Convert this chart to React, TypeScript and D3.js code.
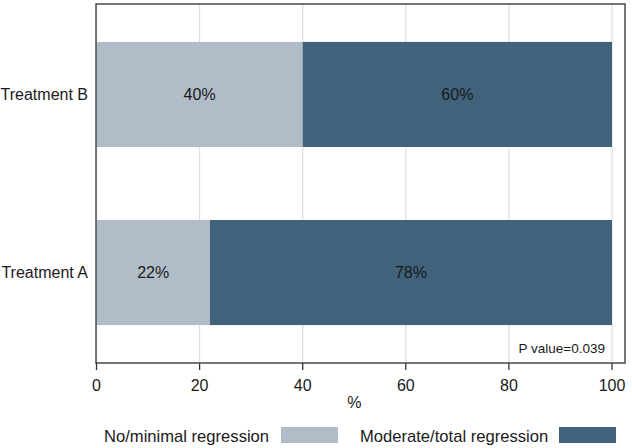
import * as d3 from "d3"

const categories = ["Treatment B", "Treatment A"]
const noMinimal = [40, 22]
const moderateTotal = [60, 78]
const xTicks = [0, 20, 40, 60, 80, 100]
const legendLabels = ["No/minimal regression", "Moderate/total regression"]
const colors = ["#b0bcc8", "#40627a"]

const font = "'Liberation Sans', Arial, Helvetica, sans-serif"

const App = () => {
  const W = 632
  const H = 448
  const frame = { left: 96, top: 4, right: 625, bottom: 363 }

  const x = d3.scaleLinear().domain([0, 100]).range([96.5, 612])
  const y = d3.scaleBand()
    .domain(categories)
    .range([frame.top, frame.bottom])
    .paddingInner(0.41)
    .paddingOuter(0.213)

  const rows = categories.map((c, i) => ({
    cat: c,
    segs: [
      { start: 0, value: noMinimal[i], color: colors[0] },
      { start: noMinimal[i], value: moderateTotal[i], color: colors[1] },
    ],
  }))

  return (
    <svg width={W} height={H} style={{ position: "absolute", left: 0, top: 0 }} fontFamily={font}>
      {/* gridlines */}
      {xTicks.map(t => (
        <line key={"g" + t} x1={x(t)} x2={x(t)} y1={frame.top} y2={frame.bottom} stroke="#dedede" strokeWidth={1.2} />
      ))}
      {/* bars */}
      {rows.map(r => (
        <g key={r.cat}>
          {r.segs.map((s, j) => (
            <g key={j}>
              <rect
                x={x(s.start)}
                y={y(r.cat)!}
                width={x(s.start + s.value) - x(s.start)}
                height={y.bandwidth()}
                fill={s.color}
              />
              <text
                x={(x(s.start) + x(s.start + s.value)) / 2}
                y={y(r.cat)! + y.bandwidth() / 2}
                dy="0.35em"
                textAnchor="middle"
                fontSize={16}
                fill="#1a1a1a"
              >
                {s.value}%
              </text>
            </g>
          ))}
          <text
            x={88}
            y={y(r.cat)! + y.bandwidth() / 2}
            dy="0.35em"
            textAnchor="end"
            fontSize={16}
            fill="#1a1a1a"
          >
            {r.cat}
          </text>
        </g>
      ))}
      {/* frame */}
      <rect
        x={frame.left}
        y={frame.top}
        width={frame.right - frame.left}
        height={frame.bottom - frame.top}
        fill="none"
        stroke="#4a4a4a"
        strokeWidth={1.5}
      />
      {/* x axis ticks */}
      {xTicks.map(t => (
        <g key={"t" + t} transform={`translate(${x(t)}, ${frame.bottom})`}>
          <line y2={7} stroke="#333" strokeWidth={1.3} />
          <text y={22} dy="0.35em" textAnchor="middle" fontSize={16} fill="#1a1a1a">
            {t}
          </text>
        </g>
      ))}
      <text x={(x(0) + x(100)) / 2} y={402} dy="0.35em" textAnchor="middle" fontSize={16} fill="#1a1a1a">
        %
      </text>
      <text x={605} y={348} dy="0.35em" textAnchor="end" fontSize={13.5} fill="#1a1a1a">
        P value=0.039
      </text>
      {/* legend */}
      <text x={104} y={436} dy="0.35em" fontSize={16.6} fill="#1a1a1a">{legendLabels[0]}</text>
      <rect x={281} y={427} width={57} height={16} fill={colors[0]} />
      <text x={360} y={436} dy="0.35em" fontSize={16.6} fill="#1a1a1a">{legendLabels[1]}</text>
      <rect x={559} y={427} width={57} height={16} fill={colors[1]} />
    </svg>
  )
}

export default App
